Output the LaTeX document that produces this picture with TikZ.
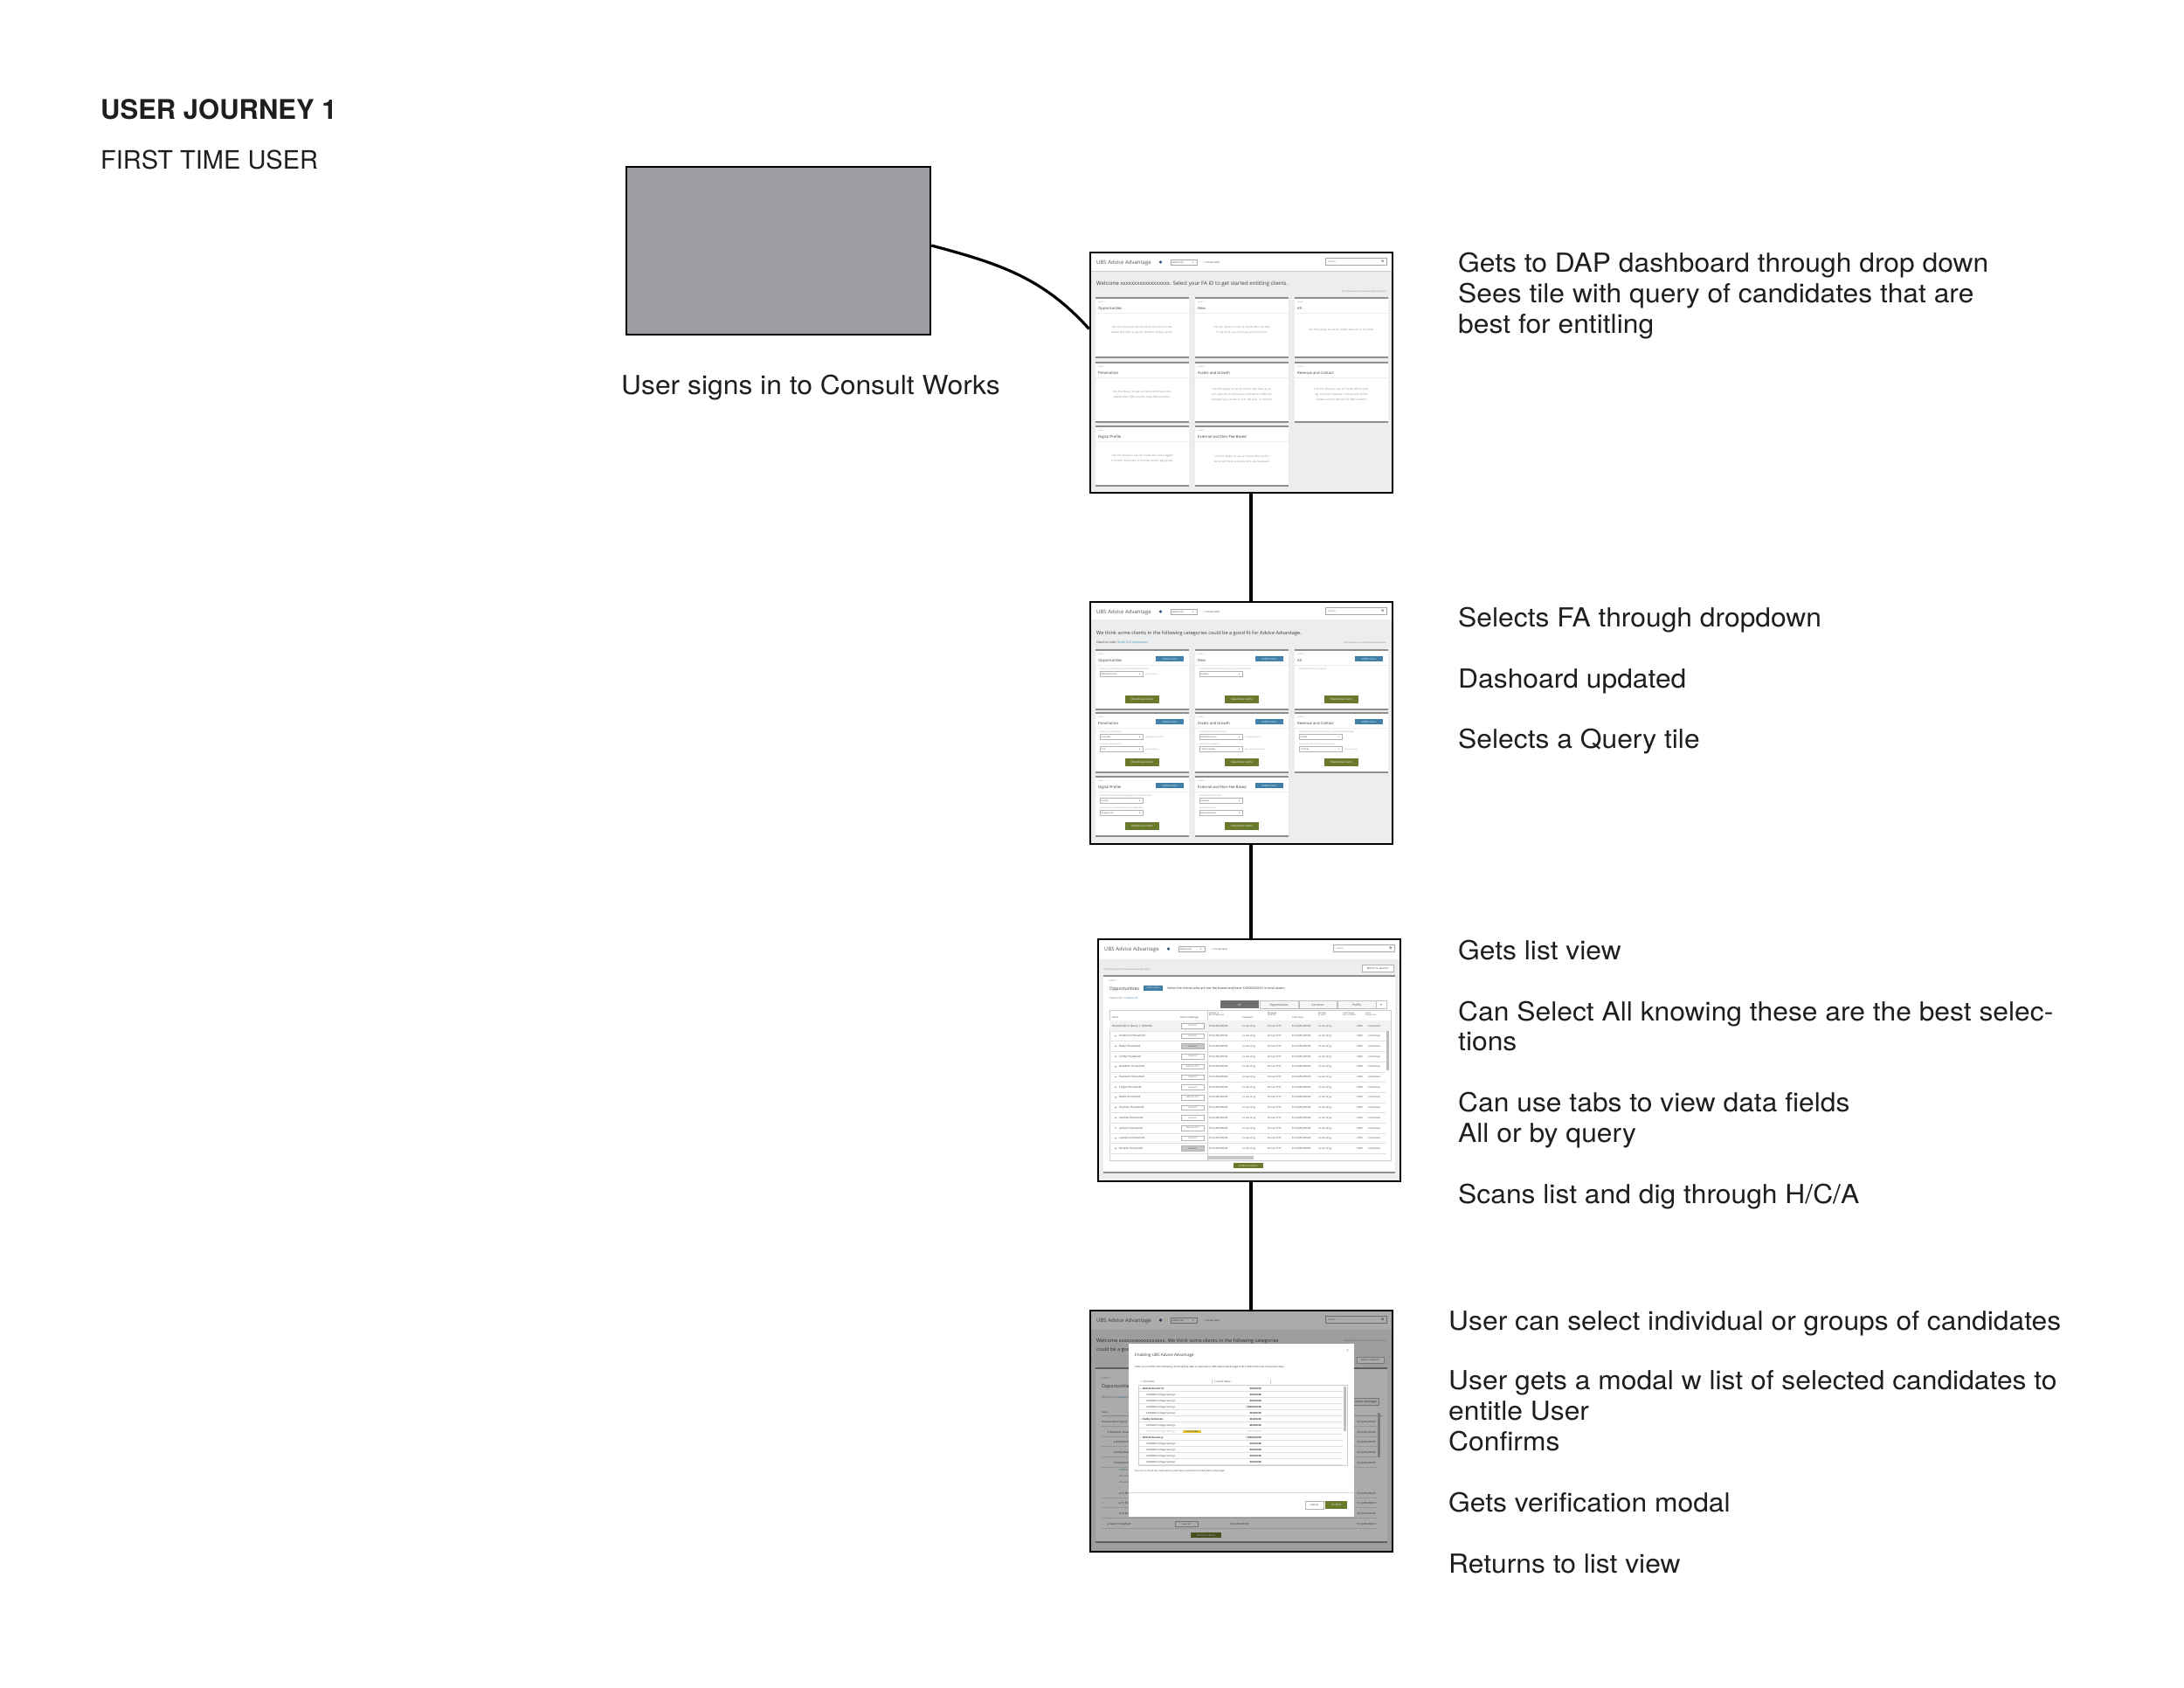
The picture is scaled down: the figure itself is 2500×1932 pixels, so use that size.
\documentclass[tikz,border=0pt]{standalone}
\usepackage{fontspec}
\setmainfont{TeX Gyre Heros}
\newfontfamily\annfont[FakeStretch=1.06]{TeX Gyre Heros}
\newfontfamily\uifont{Open Sans}
\newfontfamily\symfont{DejaVu Sans}
\usetikzlibrary{calc}
\definecolor{bgc}{HTML}{ECEDEE}
\definecolor{tbarc}{HTML}{8E8E8E}
\definecolor{txd}{HTML}{3C3C3C}
\definecolor{hdrc}{HTML}{555555}
\definecolor{bluec}{HTML}{3F7FA8}
\definecolor{greenc}{HTML}{6A7A2C}
\definecolor{annc}{HTML}{1E1E1E}
\definecolor{loginc}{HTML}{9D9EA1}
\definecolor{infoc}{HTML}{3B5B7D}
\definecolor{linkc}{HTML}{3A8FB0}
\definecolor{tabc}{HTML}{6E6E6E}
\definecolor{yelc}{HTML}{E3C12B}
\definecolor{ltx}{HTML}{8A8A8A}

\newcommand{\uiHeader}[1]{%
  \fill[white] (0,0) rectangle (346,#1);
  \node[uit=6, text=hdrc] at (7,13.5) {UBS Advice Advantage};
  \fill[infoc] (80.5,11) circle (1.8pt);
  \draw[draw=gray!70, fill=white, line width=0.3pt] (92,8) rectangle (122,14);
  \node[uit=2.6] at (94,12) {Branch 2A};
  \node[uit=2.4] at (117,12) {\symfont ▾};
  \node[uit=2.6] at (129,12) {\symfont ✓\uifont\ Include Splits};
  \draw[draw=gray!70, fill=white, line width=0.3pt] (269,6) rectangle (339,14.5);
  \node[uit=2.8, text=gray] at (272,11.8) {Search};
  \draw[gray, line width=0.3pt] (334.5,9.6) circle (1.2pt) -- ++(1.3,1.3);
}
\newcommand{\tileframe}[2]{%
  \fill[white] (#1,#2) rectangle ++(107,68);
  \fill[bgc] (#1,#2+16.5) rectangle ++(107,1.3);
  \draw[tbar] (#1,#2) -- ++(107,0);
  \draw[tbar] (#1,#2+68) -- ++(107,0);
}
\newcommand{\tileone}[5]{%
  \tileframe{#1}{#2}
  \node[uit=1.8, text=gray] at (#1+3,#2+5.5) {#3};
  \node[uit=4.2] at (#1+3,#2+13) {#4};
  \node[desc] at (#1+53.5,#2+37) {#5};
}
\newcommand{\tiletwo}[4]{%
  \tileframe{#1}{#2}
  \node[uit=1.8, text=gray] at (#1+3,#2+5.5) {#3};
  \node[uit=4.2] at (#1+3,#2+13.5) {#4};
  \fill[bluec] (#1+69,#2+7) rectangle ++(32,6);
  \node[uit=2.7, text=white, anchor=base] at (#1+85,#2+11) {XXXXX clients};
  \fill[greenc] (#1+34,#2+52) rectangle ++(39,9);
  \node[uit=3, text=white, anchor=base] at (#1+53.5,#2+57.6) {View these clients};
}
\newcommand{\uiDrop}[5]{%
  \node[uit=2.2, text=ltx] at (#1,#2) {#3};
  \draw[draw=gray!60, fill=white, line width=0.3pt] (#1,#2+2.5) rectangle ++(49,5.5);
  \node[uit=2.4] at (#1+1.5,#2+6.3) {#4};
  \node[uit=2.2] at (#1+45,#2+6.3) {\symfont ▾};
  \node[uit=2.1, text=ltx] at (#1+52,#2+6.3) {#5};
}
\newcommand{\mrow}[5]{%
  \node[uit=2.9, text=#5] at (#2,#1) {#3};
  \node[uit=2.9, text=#5, anchor=base east] at (196,#1) {#4};
  \draw[gray!25, line width=0.25pt] (56,#1+2.2) -- (289,#1+2.2);
}

\begin{document}
\begin{tikzpicture}[x=1pt,y=-1pt,
  ann/.style={font=\annfont\fontsize{30}{35}\selectfont, anchor=base west, inner sep=0pt, text=annc},
  uit/.style={inner sep=0pt, anchor=base west, font=\uifont\fontsize{#1}{#1}\selectfont, text=txd},
  desc/.style={inner sep=0pt, align=center, text width=92pt, font=\uifont\fontsize{3}{6}\selectfont, text=ltx},
  frame/.style={draw=black, line width=2.6pt, inner sep=0pt, fill=none},
  conn/.style={draw=black, line width=3.2pt},
  tbar/.style={draw=tbarc, line width=1.2pt},
]
\useasboundingbox (0,0) rectangle (2500,1932);
\fill[white] (0,0) rectangle (2500,1932);

% ---------- titles ----------
\node[font=\bfseries\fontsize{31}{36}\selectfont, anchor=base west, inner sep=0pt, text=annc] (title) at (115,137) {USER JOURNEY 1};
\node[font=\fontsize{29}{34}\selectfont, anchor=base west, inner sep=0pt, text=annc] (subtitle) at (115,193) {FIRST TIME USER};

% ---------- login box ----------
\node[draw=black, line width=2.6pt, fill=loginc, minimum width=348pt, minimum height=192pt, inner sep=0pt] (login) at (891,287) {};
\node[ann] (loginlbl) at (711,451) {User signs in to Consult Works};

% ---------- screen 1 ----------
\begin{scope}[shift={(1248,289)}]
  \fill[bgc] (0,0) rectangle (346,275);
  \uiHeader{21}
  \draw[gray!40, line width=0.4pt] (0,21) -- (346,21);
  \node[uit=6] at (7,37) {Welcome xxxxxxxxxxxxxxxxxx. Select your FA ID to get started entitling clients.};
  \node[uit=2.5, anchor=base east, text=gray] at (339,45) {All information as of last business day close};
  \tileone{6}{52}{QUERY 1}{Opportunities}{Use this Query to see all clients who are not fee-based and have a specific number of total assets.}
  \tileone{120}{52}{QUERY 2}{New}{Use this Query to see all clients who are new in my book, as of the last period of time.}
  \tileone{234}{52}{QUERY 3}{All}{Use this Query to see all clients who are in my book.}
  \tileone{6}{126}{QUERY 4}{Penetration}{Use this Query to see all clients who have completed their FQA and also have UBS products.}
  \tileone{120}{126}{QUERY 5}{Assets and Growth}{Use this Query to see all clients who have a certain amount in total assets and whose AUM has changed by a certain \% over the past 12 months.}
  \tileone{234}{126}{QUERY 6}{Revenue and Contact}{Use this Query to see all clients whose trailing 12-month revenue is below and certain number and by amount of CRM contacts.}
  \tileone{6}{199}{QUERY 7}{Digital Profile}{Use this Query to see all clients who have logged in to OLS in the last 12 months and by age group.}
  \tileone{120}{199}{QUERY 8}{External and Non-Fee-Based}{Use this Query to see all clients who are External and have accounts who are fee-based.}
\end{scope}
\node[frame, minimum width=346pt, minimum height=275pt] (s1) at (1421,426.5) {};

% ---------- screen 2 ----------
\begin{scope}[shift={(1248,689)}]
  \fill[bgc] (0,0) rectangle (346,277);
  \uiHeader{20}
  \node[uit=5.6] at (7,37) {We think some clients in the following categories could be a good fit for Advice Advantage.};
  \node[uit=3.4] at (7,47.5) {Need to undo? \textcolor{linkc}{Email OLS Operations}};
  \node[uit=2.4, anchor=base east, text=gray] at (339,47.5) {All information as of last business day close};
  \tiletwo{6}{55}{QUERY 1}{Opportunities}
  \tiletwo{120}{55}{QUERY 2}{New}
  \tiletwo{234}{55}{QUERY 3}{All}
  \tiletwo{6}{127}{QUERY 4}{Penetration}
  \tiletwo{120}{127}{QUERY 5}{Assets and Growth}
  \tiletwo{234}{127}{QUERY 6}{Revenue and Contact}
  \tiletwo{6}{200}{QUERY 7}{Digital Profile}
  \tiletwo{120}{200}{QUERY 8}{External and Non-Fee-Based}
  \uiDrop{11}{77}{Show me all clients who are not fee-based with a total:}{\$250,000 or less}{in total assets}
  \uiDrop{125}{77}{Show me all clients who are new to my book as of the last:}{Quarter}{}
  \node[uit=2.2, text=ltx] at (239,77) {Show me all clients in my book.};
  \uiDrop{11}{149}{Show me all clients who:}{Have Not}{completed their FQA}
  \uiDrop{11}{163}{and have UBS products:}{One}{product with us}
  \uiDrop{125}{149}{Show me all clients who have:}{\$250,000 or less}{in total assets and}
  \uiDrop{125}{163}{whose AUM change is:}{+20\% or better}{over the last 12 months}
  \uiDrop{239}{149}{Show me all clients whose trailing 12 month revenue is below:}{\$5,000}{}
  \uiDrop{239}{163}{and whose CRM contacts are fewer than:}{10 times}{in the last year}
  \uiDrop{11}{222}{Show me all clients who have logged in to OLS fewer than:}{5 times}{}
  \uiDrop{11}{236}{in the last 12 months and who are younger than:}{35 years old}{}
  \uiDrop{125}{222}{Show me all clients with:}{External}{}
  \uiDrop{125}{236}{accounts that are:}{Non-Fee-based}{}
\end{scope}
\node[frame, minimum width=346pt, minimum height=277pt] (s2) at (1421,827.5) {};

% ---------- screen 3 ----------
\begin{scope}[shift={(1257,1075)}]
  \fill[bgc] (0,0) rectangle (346,277);
  \uiHeader{23}
  \node[uit=2.6, text=gray] at (6,35) {All information as of last business day close};
  \draw[draw=gray!60, fill=white, line width=0.3pt] (302,29) rectangle (338,37);
  \node[uit=3, anchor=base] at (320,34.6) {Return to queries};
  \fill[white] (6,42) rectangle (340,267);
  \draw[tbar] (6,42) -- (340,42);
  \draw[tbar] (6,267) -- (340,267);
  \node[uit=2.4, text=gray] at (12,48.5) {QUERY 1};
  \node[uit=5.2] at (13,58) {Opportunities};
  \fill[bluec] (52,53) rectangle (74,58.5);
  \node[uit=2.4, text=white, anchor=base] at (63,56.7) {XXXXX clients};
  \node[uit=3.7] at (79,57.5) {Select the clients who are not fee-based and have XXXXXXXXXXX in total assets.};
  \node[uit=3, text=gray] at (13,68) {Expand All \ \textcolor{linkc}{Collapse All}};
  \fill[tabc] (140,70) rectangle (184,79);
  \node[uit=3.2, text=white, anchor=base] at (162,76) {All};
  \draw[draw=gray!50, fill=gray!8, line width=0.3pt] (185,70) rectangle (229,79);
  \node[uit=3.2, anchor=base] at (207,76) {Opportunities};
  \draw[draw=gray!50, fill=gray!8, line width=0.3pt] (230,70) rectangle (273,79);
  \node[uit=3.2, anchor=base] at (251.5,76) {Accounts};
  \draw[draw=gray!50, fill=gray!8, line width=0.3pt] (274,70) rectangle (318,79);
  \node[uit=3.2, anchor=base] at (296,76) {Profile};
  \draw[draw=gray!50, fill=white, line width=0.3pt] (318,70) rectangle (330,79);
  \node[uit=4.5, anchor=base] at (324,76.6) {»};
  \draw[draw=gray!40, line width=0.3pt] (13,81) rectangle (335,253);
  \draw[draw=gray!40, line width=0.3pt] (125,81) -- (125,253);
  \node[uit=2.5] at (16,90) {Name};
  \node[uit=2.5] at (94,90) {Advice Advantage};
  \node[uit=2.3, align=left, anchor=north west] at (127,83.5) {Trailing 12\\Month Revenue};
  \node[uit=2.5] at (165,90) {Fee-based};
  \node[uit=2.3, align=left, anchor=north west] at (194,83.5) {Managed\\Products};
  \node[uit=2.5] at (222,90) {Loan Value};
  \node[uit=2.3, align=left, anchor=north west] at (252,83.5) {External\\Account};
  \node[uit=2.1, align=left, anchor=north west] at (280,83.5) {AUM Change\\over 12 Months};
  \node[uit=2.1, align=left, anchor=north west] at (306,83.5) {Latest\\Activity as of};
  \draw[gray!40, line width=0.3pt] (13,93) -- (335,93);
  \fill[gray!10] (13,93.3) rectangle (335,104.7);
  \node[uit=3] at (16,100) {Households in Query 1: XXXXXXX};
  \draw[draw=gray!60, fill=white, line width=0.3pt] (95,96.2) rectangle (121,101.8);
  \node[uit=2.2, anchor=base] at (108,99.8) {Select All};
  \foreach \nm/\bt/\bfc [count=\k] in {Anderson Household/Select All/white, Baker Household/Select All/gray!45, Candy Household/Select All/white, Davidson Household/Select XX of YY/white, Evanston Household/Select All/white, Fergus Household/Select All/white, Gettis Household/Select XX of YY/white, Harrison Household/Select All/white, Ivanhoe Household/Select All/white, Jackson Household/Select XX of YY/white, Lawrence Household/Select All/white, Murphy Household/Select All/gray!45}{
    \pgfmathsetmacro\yy{99+11.7*\k}
    \fill[txd] (20,\yy) circle (0.7pt);
    \node[uit=3] at (24,\yy+1) {\nm};
    \draw[draw=gray!60, fill=\bfc, line width=0.3pt] (95,\yy-2.8) rectangle (121,\yy+2.8);
    \node[uit=2.2, anchor=base] at (108,\yy+0.8) {\bt};
  }
  \foreach \k in {0,...,12}{
    \pgfmathsetmacro\yy{99+11.7*\k}
    \node[uit=2.8] at (127,\yy+1) {\$123,456,000.00};
    \node[uit=2.8] at (165,\yy+1) {xx out of yy};
    \node[uit=2.8] at (194,\yy+1) {XX out of YY};
    \node[uit=2.8] at (222,\yy+1) {\$123,456,000.00};
    \node[uit=2.8] at (252,\yy+1) {xx out of yy};
    \node[uit=2.8, anchor=base east] at (303,\yy+1) {+XX\%};
    \node[uit=2.8] at (309,\yy+1) {xx/xx/xxxx};
    \draw[gray!25, line width=0.3pt] (13,\yy+5.85) -- (329,\yy+5.85);
  }
  \fill[gray!55] (330,105) rectangle (333,150);
  \fill[gray!45] (125,248) rectangle (178,252);
  \fill[greenc] (155,256) rectangle (189,262);
  \node[uit=2.8, text=white, anchor=base] at (172,260) {Entitle xx clients};
\end{scope}
\node[frame, minimum width=346pt, minimum height=277pt] (s3) at (1430,1213.5) {};

% ---------- screen 4 ----------
\begin{scope}[shift={(1248,1500)}]
  \fill[bgc] (0,0) rectangle (346,276);
  \uiHeader{22}
  \node[uit=5.6] at (7,36) {Welcome xxxxxxxxxxxxxxxxxx. We think some clients in the following categories};
  \node[uit=5.6] at (7,46) {could be a good fit for Advice Advantage.};
  \node[uit=2.4, anchor=base east, text=gray] at (339,35) {All information as of last business day close};
  \draw[draw=gray!60, fill=white, line width=0.3pt] (305,53) rectangle (336,60);
  \node[uit=2.6, anchor=base] at (320.5,57.8) {Return to queries};
  \fill[white] (6,66) rectangle (340,265);
  \draw[tbar] (6,66) -- (340,66);
  \draw[tbar] (6,265) -- (340,265);
  \node[uit=2.4, text=gray] at (13,78) {QUERY 1};
  \node[uit=5.2] at (13,88) {Opportunities};
  \node[uit=3, text=gray] at (13,100) {Expand All \ \textcolor{linkc}{Collapse All}};
  \draw[draw=gray!60, fill=gray!8, line width=0.3pt] (262,100) rectangle (330,108);
  \node[uit=3, anchor=base east] at (328,105.4) {Advice Advantage};
  \node[uit=2.5] at (13,117) {Name};
  \draw[gray!40, line width=0.3pt] (13,120) -- (335,120);
  \node[uit=3] at (13,128) {Households in Query 1: XXXXXXX};
  \node[uit=3] at (20,140) {\symfont ▾\uifont\ Anderson Household};
  \node[uit=3] at (27,151.5) {\symfont ▸\uifont\ Robert Johnson};
  \node[uit=3] at (27,163) {\symfont ▸\uifont\ Kathy Baker};
  \node[uit=3] at (27,175) {\symfont ▾\uifont\ Robert Johnson};
  \node[uit=2.6, text=linkc] at (33,183) {XXXXXXX};
  \node[uit=2.6, text=gray] at (33,190) {XXX-XXX-XXXX};
  \node[uit=2.6, text=linkc] at (33,197) {View Profile};
  \node[uit=3] at (33,210) {\symfont ▸\uifont\ (7) Brokerage};
  \node[uit=3] at (33,221.5) {\symfont ▸\uifont\ (7) Brokerage};
  \node[uit=3] at (33,233) {\symfont ▸\uifont\ (7) Brokerage};
  \node[uit=3] at (20,245) {\symfont ▸\uifont\ Spear Household};
  \draw[draw=gray!60, fill=white, line width=0.3pt] (97,241.5) rectangle (123,247.5);
  \node[uit=2.2, anchor=base] at (110,245.3) {Select All};
  \node[uit=2.8] at (160,245) {\$123,456,000.00};
  \foreach \yy in {128,140,151.5,163,175,210,221.5,233,245}{
    \node[uit=2.8, anchor=base east] at (327,\yy) {\$123,456,000.00};
    \draw[gray!25, line width=0.3pt] (13,\yy+4) -- (329,\yy+4);
  }
  \fill[gray!55] (329,117) rectangle (332,168);
  \fill[greenc] (115,254) rectangle (150,260);
  \node[uit=2.8, text=white, anchor=base] at (132.5,258.2) {Entitle xx clients};
  % dim overlay
  \fill[black, opacity=0.33] (0,0) rectangle (346,276);
  % modal
  \fill[white] (44,38) rectangle (302,236);
  \node[uit=4.6] at (51,52) {Enabling UBS Advice Advantage};
  \node[uit=5, text=gray] at (293,47) {×};
  \node[uit=2.9] at (51,65.5) {After you confirm, the following clients will be able to experience UBS Advice Advantage in OLS within the next 3 business days.};
  \node[uit=2.9] at (57,82.5) {\symfont ✓\uifont\ All Clients};
  \node[uit=2.9] at (142,82.5) {Current Value};
  \draw[gray!40, line width=0.3pt] (139,78.5) -- (139,84);
  \draw[gray!40, line width=0.3pt] (206,78.5) -- (206,84);
  \draw[draw=gray!40, line width=0.3pt] (55,85) rectangle (294,177);
  \mrow{90.2}{57}{\symfont ✓\uifont\ \textbf{Bob Anderson Sr.}}{\textbf{50,000.00}}{txd}
  \mrow{97.2}{64}{XXX0000 College Savings}{\textbf{20,000.00}}{txd}
  \mrow{104.2}{64}{XXX0000 College Savings}{\textbf{40,000.00}}{txd}
  \mrow{111.2}{64}{XXX0000 College Savings}{\textbf{1,000,000.00}}{txd}
  \mrow{118.2}{64}{XXX0000 College Savings}{\textbf{50,000.00}}{txd}
  \mrow{125.2}{57}{\symfont ✓\uifont\ \textbf{Kathy Anderson}}{\textbf{20,000.00}}{txd}
  \mrow{132.2}{64}{XXX0000 College Savings}{\textbf{40,000.00}}{txd}
  \mrow{139.2}{64}{XXX0000 College Savings}{1,500,000.00}{gray!60}
  \fill[yelc] (106,136.5) rectangle (127,140.3);
  \node[uit=2.2, anchor=base] at (116.5,139.3) {NOT ELIGIBLE};
  \mrow{146.2}{57}{\symfont ✓\uifont\ \textbf{Bob Anderson Jr.}}{\textbf{1,000,000.00}}{txd}
  \mrow{153.2}{64}{XXX0000 College Savings}{\textbf{50,000.00}}{txd}
  \mrow{160.2}{64}{XXX0000 College Savings}{\textbf{50,000.00}}{txd}
  \mrow{167.2}{64}{XXX0000 College Savings}{\textbf{20,000.00}}{txd}
  \mrow{174.2}{64}{XXX0000 College Savings}{\textbf{40,000.00}}{txd}
  \fill[gray!50] (290,87) rectangle (293,138);
  \node[uit=2.6] at (51,184.5) {You can un-check any clients whom you'd like to exclude from UBS Advice Advantage.};
  \draw[gray!30, line width=0.3pt] (44,208) -- (302,208);
  \draw[draw=gray!60, fill=white, line width=0.3pt] (246,218) rectangle (267,227);
  \node[uit=3, anchor=base] at (256.5,223.6) {Cancel};
  \fill[greenc] (269,218) rectangle (294,227);
  \node[uit=3, text=white, anchor=base] at (281.5,223.6) {Confirm};
\end{scope}
\node[frame, minimum width=346pt, minimum height=276pt] (s4) at (1421,1638) {};

% ---------- connectors ----------
\draw[conn] ([yshift=6pt]login.east) to[out=-15, in=132] ([yshift=50pt]s1.west);
\draw[conn] ([xshift=11pt]s1.south) -- ([xshift=11pt]s2.north);
\draw[conn] ([xshift=11pt]s2.south) -- ([xshift=2pt]s3.north);
\draw[conn] ([xshift=2pt]s3.south) -- ([xshift=11pt]s4.north);

% ---------- annotations ----------
\node[ann] (a1a) at (1669,311) {Gets to DAP dashboard through drop down};
\node[ann] (a1b) at (1669,346) {Sees tile with query of candidates that are};
\node[ann] (a1c) at (1669,381) {best for entitling};
\node[ann] (a2a) at (1669,717) {Selects FA through dropdown};
\node[ann] (a2b) at (1669,787) {Dashoard updated};
\node[ann] (a2c) at (1669,856) {Selects a Query tile};
\node[ann] (a3a) at (1669,1098) {Gets list view};
\node[ann] (a3b) at (1669,1168) {Can Select All knowing these are the best selec-};
\node[ann] (a3c) at (1669,1202) {tions};
\node[ann] (a3d) at (1669,1272) {Can use tabs to view data fields};
\node[ann] (a3e) at (1669,1307) {All or by query};
\node[ann] (a3f) at (1669,1377) {Scans list and dig through H/C/A};
\node[ann] (a4a) at (1658,1522) {User can select individual or groups of candidates};
\node[ann] (a4b) at (1658,1590) {User gets a modal w list of selected candidates to};
\node[ann] (a4c) at (1658,1625) {entitle User};
\node[ann] (a4d) at (1658,1660) {Confirms};
\node[ann] (a4e) at (1658,1730) {Gets verification modal};
\node[ann] (a4f) at (1658,1800) {Returns to list view};
\end{tikzpicture}
\end{document}
